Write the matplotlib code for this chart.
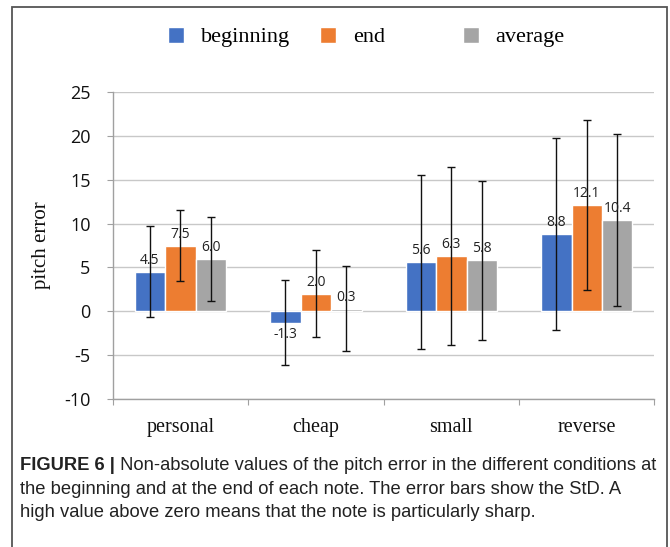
import matplotlib
matplotlib.use("Agg")
import matplotlib.pyplot as plt
import numpy as np
from matplotlib.patches import Rectangle

categories = ["personal", "cheap", "small", "reverse"]
series_names = ["beginning", "end", "average"]
beginning = [4.5, -1.3, 5.6, 8.8]
end = [7.5, 2.0, 6.3, 12.1]
average = [6.0, 0.3, 5.8, 10.4]
std_beginning = [5.2, 4.85, 9.95, 10.9]
std_end = [4.1, 4.95, 10.1, 9.7]
std_average = [4.8, 4.85, 9.05, 9.8]
yticks = [-10, -5, 0, 5, 10, 15, 20, 25]
caption_bold = "FIGURE 6 |"
caption_rest_1 = " Non-absolute values of the pitch error in the different conditions at"
caption_lines = ["the beginning and at the end of each note. The error bars show the StD. A",
                 "high value above zero means that the note is particularly sharp."]

colors = ["#4472C4", "#ED7D31", "#A5A5A5"]
values = [beginning, end, average]
stds = [std_beginning, std_end, std_average]

W, H = 670, 547
fig = plt.figure(figsize=(W / 100, H / 100), dpi=100)
ax = fig.add_axes([112.7 / W, 1 - 399 / H, (654.5 - 112.7) / W, (399 - 92) / H])

x = np.arange(len(categories))
bw = 0.225
handles = []
for i, (vals, sd, c) in enumerate(zip(values, stds, colors)):
    pos = x + (i - 1) * bw
    bars = ax.bar(pos, vals, width=bw, color=c, edgecolor="white", linewidth=1.0, zorder=2,
                  label=series_names[i])
    handles.append(bars)
    ax.errorbar(pos, vals, yerr=sd, fmt="none", ecolor="#111111", elinewidth=1.0,
                capsize=3, capthick=1.0, zorder=4)
    for p, v in zip(pos, vals):
        if v >= 0:
            ax.text(p, v + 0.45, f"{v:.1f}", ha="center", va="bottom", fontsize=10,
                    family="Open Sans", color="#222222", zorder=5)
        else:
            ax.text(p, v - 0.5, f"{v:.1f}", ha="center", va="top", fontsize=10,
                    family="Open Sans", color="#222222", zorder=5)

ax.set_xlim(-0.5, len(categories) - 0.5)
ax.set_ylim(-10, 25)
ax.set_yticks(yticks)
ax.set_yticklabels([str(t) for t in yticks], family="Open Sans", fontsize=13, color="#111111")
ax.yaxis.grid(True, color="#C8C8C8", linewidth=1.0, zorder=0)
ax.set_axisbelow(True)
ax.set_xticks(np.arange(-0.5, len(categories)), minor=False)
ax.set_xticklabels([])
ax.set_xticks(x, minor=True)
ax.set_xticklabels(categories, minor=True, family="Liberation Serif", fontsize=14.5, color="#111111")
ax.tick_params(axis="x", which="major", direction="out", length=4, color="#A0A0A0")
ax.tick_params(axis="x", which="minor", length=0, pad=14)
ax.tick_params(axis="y", direction="out", length=4, color="#A0A0A0", pad=12)
for s in ["top", "right"]:
    ax.spines[s].set_visible(False)
for s in ["left", "bottom"]:
    ax.spines[s].set_color("#A0A0A0")
    ax.spines[s].set_linewidth(1.0)

ax.set_ylabel("pitch error", family="Liberation Serif", fontsize=15, color="#111111")
ax.yaxis.set_label_coords(-0.113, 0.5)

# legend entries placed like the reference (uneven column widths)
legend_x = [168, 320, 463]
for h, name, lx in zip(handles, series_names, legend_x):
    lg = fig.legend([h], [name], loc="center left", bbox_to_anchor=(lx / W, 1 - 37 / H),
                    frameon=False, prop={"family": "Liberation Serif", "size": 16},
                    handlelength=0.72, handleheight=0.72, handletextpad=0.75, borderpad=0,
                    borderaxespad=0)

# outer frame
fig.patches.append(Rectangle((12 / W, -0.02), (667 - 12) / W, 1.02 - 7 / H,
                             transform=fig.transFigure, fill=False, edgecolor="#555555",
                             linewidth=1.3))

# caption
cfs = 13.2
t1 = fig.text(20 / W, 1 - 465 / H, caption_bold, family="Liberation Sans", weight="bold",
              fontsize=cfs, color="#222222", va="center", ha="left")
fig.canvas.draw()
r = fig.canvas.get_renderer()
bb = t1.get_window_extent(r)
fig.text(bb.x1 / W, 1 - 465 / H, caption_rest_1, family="Liberation Sans", fontsize=cfs,
         color="#222222", va="center", ha="left")
for k, line in enumerate(caption_lines):
    fig.text(20 / W, 1 - (489 + 23.5 * k) / H, line, family="Liberation Sans", fontsize=cfs,
             color="#222222", va="center", ha="left")

fig.savefig("out.png", dpi=100)
